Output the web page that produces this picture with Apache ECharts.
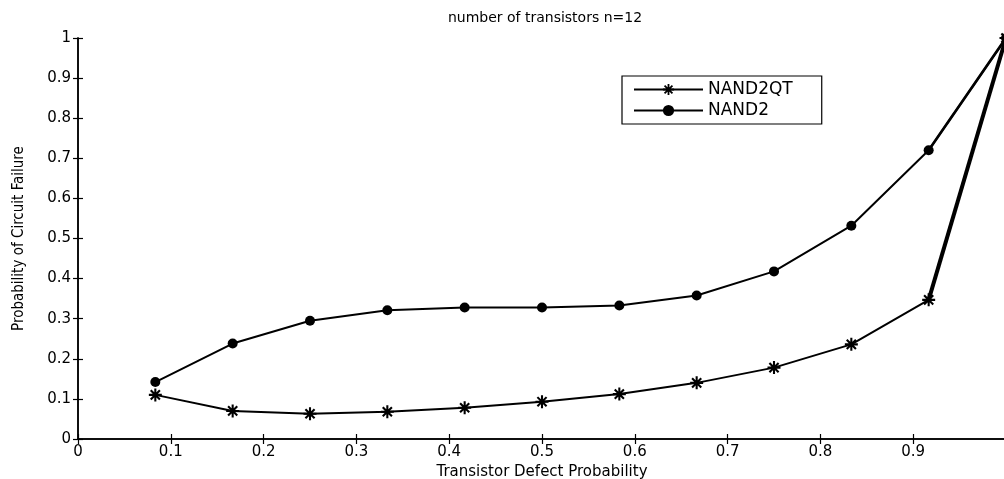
<!DOCTYPE html>
<html>
<head>
<meta charset="utf-8">
<script src="https://cdn.jsdelivr.net/npm/echarts@6/dist/echarts.min.js"></script>
<style>
html,body{margin:0;padding:0;background:#fff;}
#c{width:1004px;height:479px;}
</style>
</head>
<body>
<div id="c"></div>
<script>
// Data
var xValues = [1/12, 2/12, 3/12, 4/12, 5/12, 6/12, 7/12, 8/12, 9/12, 10/12, 11/12, 12/12];
var nand2qt = [0.110, 0.070, 0.063, 0.068, 0.078, 0.093, 0.112, 0.140, 0.178, 0.236, 0.347, 1.000];
var nand2   = [0.142, 0.238, 0.295, 0.321, 0.328, 0.328, 0.333, 0.358, 0.418, 0.532, 0.720, 1.000];
var seriesNames = ['NAND2QT', 'NAND2'];
var titleText = 'number of transistors n=12';
var xName = 'Transistor Defect Probability';
var yName = 'Probability of Circuit Failure';

function pairs(xs, ys){ return xs.map(function(x,i){ return [x, ys[i]]; }); }

var asterisk = 'path://M-1.6,-10L1.6,-10L1.6,10L-1.6,10Z M-10,-1.6L10,-1.6L10,1.6L-10,1.6Z ' +
  'M-8.2,-5.9L-5.9,-8.2L8.2,5.9L5.9,8.2Z M5.9,-8.2L8.2,-5.9L-5.9,8.2L-8.2,5.9Z';

var FONT = 'DejaVu Sans';
var chart = echarts.init(document.getElementById('c'), null, {renderer:'canvas'});
var axisLine = {show:true, lineStyle:{color:'#000', width:1.5}};
var tick = {show:true, inside:true, length:5, lineStyle:{color:'#000', width:1.2}};

var n = xValues.length;
var option = {
  backgroundColor:'#fff',
  animation:false,
  title:{text:titleText, left:540, textAlign:'center', top:6,
    textStyle:{fontFamily:FONT, fontSize:14, fontWeight:'normal', color:'#000'}},
  grid:{left:78, top:38, width:928, height:401, containLabel:false, outerBoundsMode:'none'},
  legend:{
    data:[seriesNames[0], seriesNames[1]],
    orient:'vertical', left:622, top:76,
    padding:[5,29,5,11], itemGap:4, itemWidth:69, itemHeight:14,
    borderColor:'#000', borderWidth:1.2, backgroundColor:'#fff',
    textStyle:{fontFamily:FONT, fontSize:17, color:'#000'}
  },
  xAxis:[
    {type:'value', min:0, max:1, interval:0.1, position:'bottom',
     name:xName, nameLocation:'middle', nameGap:21,
     nameTextStyle:{fontFamily:FONT, fontSize:15, color:'#000'},
     axisLine:axisLine, axisTick:tick, splitLine:{show:false},
     axisLabel:{fontFamily:FONT, fontSize:15, color:'#000', margin:6, showMaxLabel:false}},
    {type:'value', min:0, max:1, interval:0.1, position:'top',
     axisLine:axisLine, axisTick:tick, splitLine:{show:false}, axisLabel:{show:false}}
  ],
  yAxis:[
    {type:'value', min:0, max:1, interval:0.1, position:'left',
     name:yName, nameLocation:'middle', nameGap:51, nameRotate:90,
     nameTextStyle:{fontFamily:"'DejaVu Sans Condensed', 'Liberation Sans', sans-serif", fontSize:15, color:'#000'},
     axisLine:axisLine, axisTick:tick, splitLine:{show:false},
     axisLabel:{fontFamily:FONT, fontSize:15, color:'#000', margin:7}},
    {type:'value', min:0, max:1, interval:0.1, position:'right',
     axisLine:axisLine, axisTick:tick, splitLine:{show:false}, axisLabel:{show:false}}
  ],
  series:[
    {name:seriesNames[0], type:'line', data:pairs(xValues, nand2qt),
     symbol:asterisk, symbolSize:13, showAllSymbol:true,
     lineStyle:{color:'#000', width:2}, itemStyle:{color:'#000'}, z:3},
    {name:seriesNames[1], type:'line', data:pairs(xValues, nand2),
     symbol:'circle', symbolSize:10, showAllSymbol:true,
     lineStyle:{color:'#000', width:2}, itemStyle:{color:'#000'}, z:3},
    {name:'_qt_last', type:'line', data:pairs(xValues.slice(n-2), nand2qt.slice(n-2)),
     symbol:'none', lineStyle:{color:'#000', width:4}, z:2, silent:true},
    {name:'_n2_last', type:'line', data:pairs(xValues.slice(n-2), nand2.slice(n-2)),
     symbol:'none', lineStyle:{color:'#000', width:2.6}, z:2, silent:true}
  ]
};
chart.setOption(option);
</script>
</body>
</html>
